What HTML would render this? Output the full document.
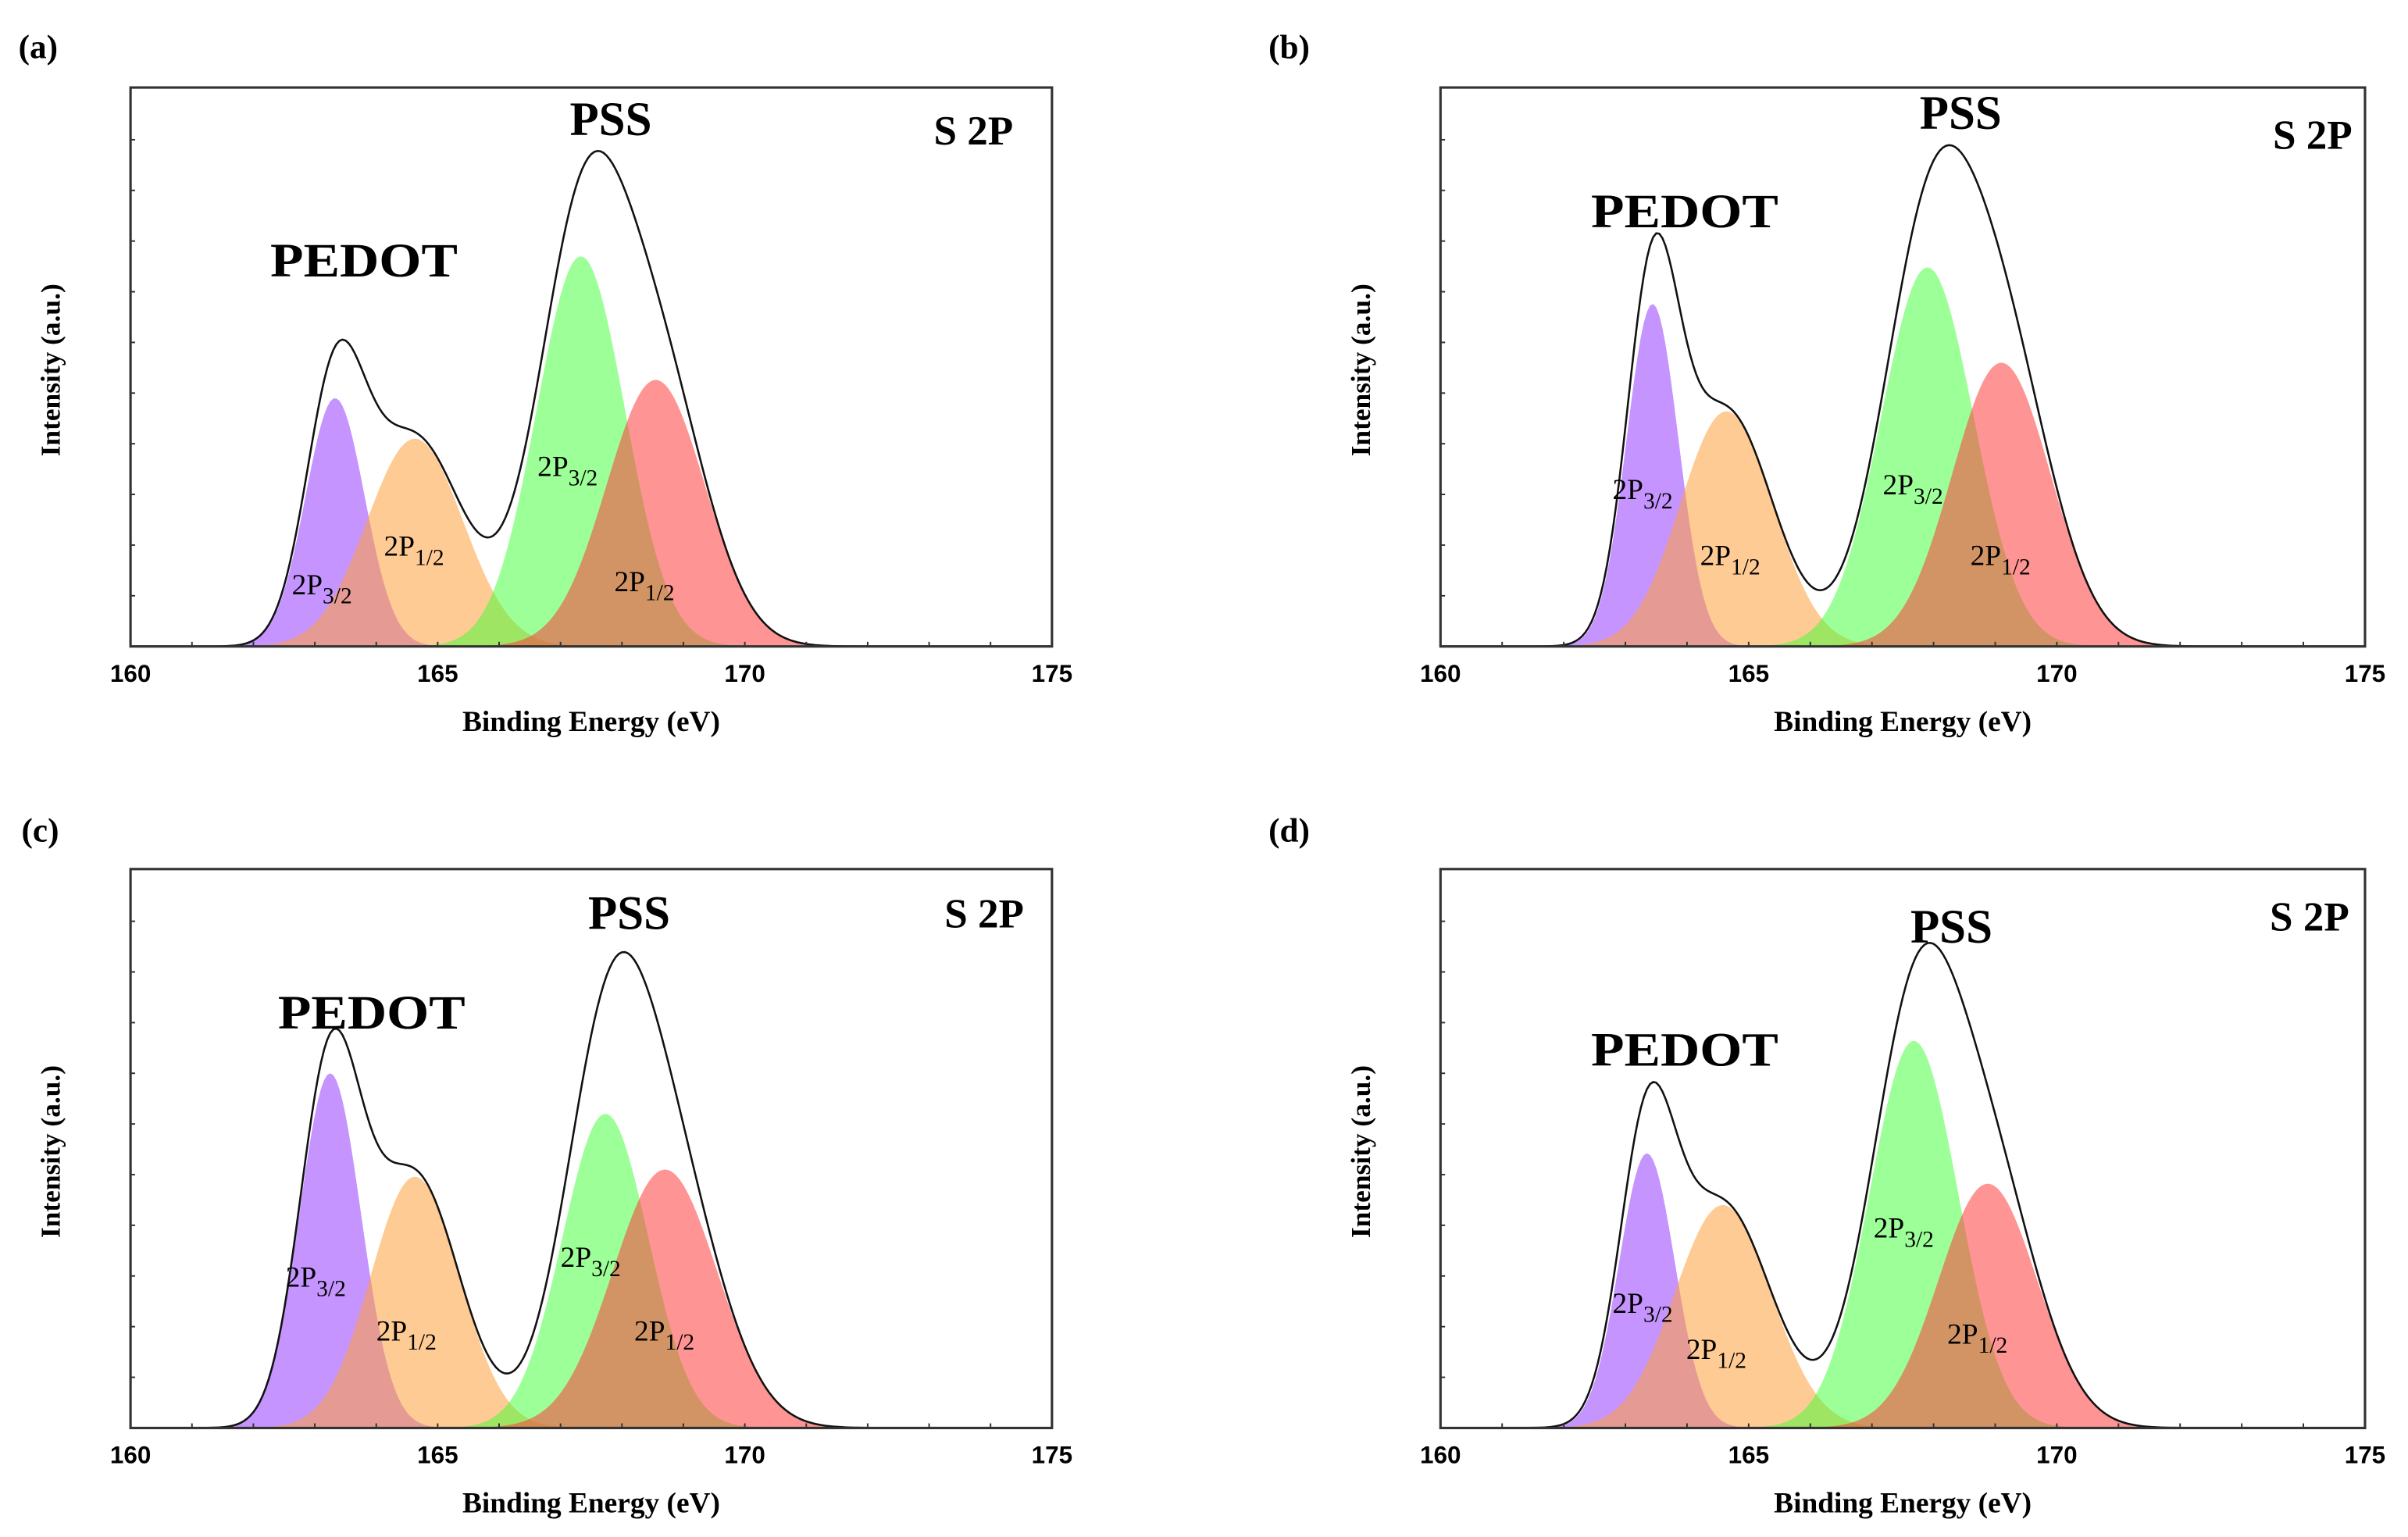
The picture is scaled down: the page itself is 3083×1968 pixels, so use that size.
<!DOCTYPE html>
<html><head><meta charset="utf-8"><style>
html,body{margin:0;padding:0;background:#fff}
svg{display:block}
text{font-family:"Liberation Serif",serif}
</style></head>
<body>
<svg id="fig" width="3083" height="1968" viewBox="0 0 1568 1001" preserveAspectRatio="none" xmlns="http://www.w3.org/2000/svg"></svg>
<script>
// Shared axis data
const xTicks = [160, 165, 170, 175];
const componentNames = ['pedot-2p32', 'pedot-2p12', 'pss-2p32', 'pss-2p12'];
// Panel (a)
const aCenters = [163.33, 164.63, 167.33, 168.55];
const aHeights = [2.45, 2.05, 3.85, 2.63];
const aSigmas = [0.48, 0.78, 0.72, 0.8];
// Panel (b)
const bCenters = [163.44, 164.64, 167.9, 169.1];
const bHeights = [3.38, 2.32, 3.74, 2.8];
const bSigmas = [0.42, 0.75, 0.75, 0.8];
// Panel (c)
const cCenters = [163.25, 164.63, 167.73, 168.7];
const cHeights = [3.5, 2.48, 3.1, 2.55];
const cSigmas = [0.5, 0.72, 0.7, 0.85];
// Panel (d)
const dCenters = [163.35, 164.58, 167.68, 168.88];
const dHeights = [2.71, 2.2, 3.82, 2.41];
const dSigmas = [0.45, 0.78, 0.72, 0.8];

const fills = ['rgba(150,60,255,0.55)','rgba(255,160,60,0.55)','rgba(60,255,50,0.5)','rgba(255,60,60,0.55)'];
const NS = 'http://www.w3.org/2000/svg';
const svg = document.getElementById('fig');
function mk(tag, attrs, parent){
  const e = document.createElementNS(NS, tag);
  for (const k in attrs) e.setAttribute(k, attrs[k]);
  (parent||svg).appendChild(e);
  return e;
}
const panels = [
  {id:'a', x0:85, x1:685, top:57, base:421, lx:12, ly:38, centers:aCenters, heights:aHeights, sigmas:aSigmas,
   pedot:[176,180], pss:[371,88], s2p:[608,94], lab:[[190,387],[250,362],[350,310],[400,385]]},
  {id:'b', x0:938, x1:1540, top:57, base:421, lx:826, ly:38, centers:bCenters, heights:bHeights, sigmas:bSigmas,
   pedot:[1036,148], pss:[1250,84], s2p:[1480,97], lab:[[1050,325],[1107,368],[1226,322],[1283,368]]},
  {id:'c', x0:85, x1:685, top:566, base:930, lx:14, ly:548, centers:cCenters, heights:cHeights, sigmas:cSigmas,
   pedot:[181,670], pss:[383,605], s2p:[615,604], lab:[[186,838],[245,873],[365,825],[413,873]]},
  {id:'d', x0:938, x1:1540, top:566, base:930, lx:826, ly:548, centers:dCenters, heights:dHeights, sigmas:dSigmas,
   pedot:[1036,694], pss:[1244,614], s2p:[1478,606], lab:[[1050,855],[1098,885],[1220,806],[1268,875]]}
];
const UNIT = 66;
panels.forEach(p => {
  const g = mk('g', {});
  
  
  const X = v => p.x0 + (v - 160) * (p.x1 - p.x0) / 15;
  const Y = v => p.base - v * UNIT;
  const gauss = (i, x) => p.heights[i] * Math.exp(-0.5 * Math.pow((x - p.centers[i]) / p.sigmas[i], 2));
  for (let i = 0; i < 4; i++) {
    let d = 'M' + X(160) + ',' + Y(0);
    for (let x = 160; x <= 175.0001; x += 0.05) d += 'L' + X(x).toFixed(2) + ',' + Y(gauss(i, x)).toFixed(2);
    d += 'L' + X(175) + ',' + Y(0) + 'Z';
    const c = mk('path', {d: d, fill: fills[i], stroke: 'none'}, g);
    
    
  }
  let d = '';
  for (let x = 160; x <= 175.0001; x += 0.05) {
    let s = 0; for (let i = 0; i < 4; i++) s += gauss(i, x);
    d += (d ? 'L' : 'M') + X(x).toFixed(2) + ',' + Y(s).toFixed(2);
  }
  const env = mk('path', {d: d, fill: 'none', stroke: '#111', 'stroke-width': 1.3}, g);
  
  
  const box = mk('rect', {x: p.x0, y: p.top, width: p.x1 - p.x0, height: p.base - p.top, fill: 'none', stroke: '#333', 'stroke-width': 1.6}, g);
  
  
  for (let k = 1; k <= 10; k++) {
    const y = p.base - k * UNIT / 2;
    if (y < p.top + 5) break;
    mk('line', {x1: p.x0, x2: p.x0 + 3, y1: y, y2: y, stroke: '#333', 'stroke-width': 1}, g);
  }
  for (let v = 161; v < 175; v++) {
    mk('line', {x1: X(v), x2: X(v), y1: p.base, y2: p.base - 3, stroke: '#333', 'stroke-width': 1}, g);
  }
  xTicks.forEach(v => {
    const t = mk('text', {x: X(v), y: p.base + 23, 'text-anchor': 'middle', 'font-size': 16, 'font-weight': 'bold', style: 'font-family:"Liberation Sans",sans-serif'}, g);
    t.textContent = v;
    
    
  });
  const xt = mk('text', {x: (p.x0 + p.x1) / 2, y: p.base + 55, 'text-anchor': 'middle', 'font-size': 19, 'font-weight': 'bold'}, g);
  xt.textContent = 'Binding Energy (eV)';
  
  
  const yt = mk('text', {x: 0, y: 0, 'text-anchor': 'middle', 'font-size': 18, 'font-weight': 'bold', transform: 'translate(' + (p.x0 - 46) + ',' + ((p.top + p.base) / 2 + 2) + ') rotate(-90)'}, g);
  yt.textContent = 'Intensity (a.u.)';
  
  
  const pl = mk('text', {x: p.lx, y: p.ly, 'font-size': 22, 'font-weight': 'bold'}, g);
  pl.textContent = '(' + p.id + ')';
  
  
  const pe = mk('text', {x: p.pedot[0], y: p.pedot[1], 'font-size': 31, 'font-weight': 'bold', textLength: 122, lengthAdjust: 'spacingAndGlyphs'}, g);
  pe.textContent = 'PEDOT';
  
  
  const ps = mk('text', {x: p.pss[0], y: p.pss[1], 'font-size': 31, 'font-weight': 'bold'}, g);
  ps.textContent = 'PSS';
  
  
  const s2 = mk('text', {x: p.s2p[0], y: p.s2p[1], 'font-size': 27, 'font-weight': 'bold'}, g);
  s2.textContent = 'S 2P';
  
  
  const subs = ['3/2', '1/2', '3/2', '1/2'];
  p.lab.forEach((L, i) => {
    const t = mk('text', {x: L[0], y: L[1], 'font-size': 19}, g);
    
    
    const a = mk('tspan', {}, t); a.textContent = '2P';
    const b = mk('tspan', {dy: 6, 'font-size': 15}, t); b.textContent = subs[i];
  });
});
</script>
</body></html>
